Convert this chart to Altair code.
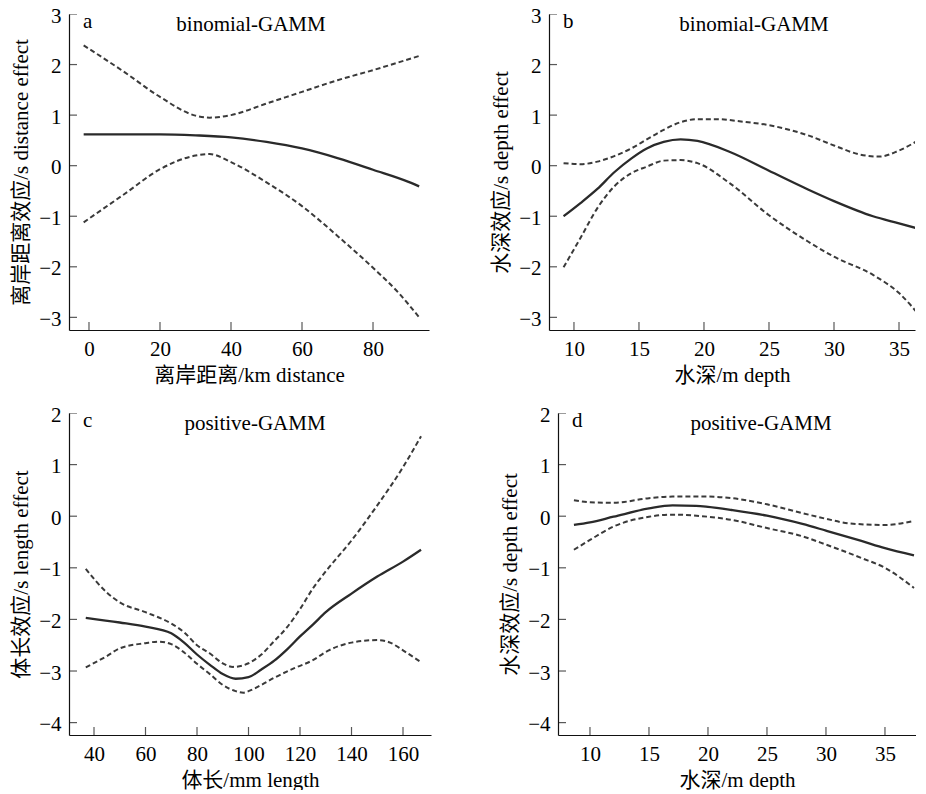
import altair as alt
import pandas as pd

FONT = "Liberation Serif, Noto Sans CJK SC, serif"

# ---------------- Panel a: distance (binomial-GAMM) ----------------
a_fit_x = [-1.5, 10, 20, 30, 40, 50, 60, 70, 80, 90, 93]
a_fit_y = [0.62, 0.62, 0.62, 0.60, 0.56, 0.47, 0.34, 0.15, -0.08, -0.32, -0.41]
a_up_x = [-1.5, 10, 20, 30, 34, 40, 50, 60, 70, 80, 93]
a_up_y = [2.38, 1.85, 1.36, 0.99, 0.95, 1.00, 1.23, 1.46, 1.69, 1.89, 2.17]
a_lo_x = [-1.5, 10, 20, 30, 34, 40, 50, 60, 70, 80, 87, 93]
a_lo_y = [-1.12, -0.56, -0.07, 0.20, 0.23, 0.07, -0.33, -0.80, -1.39, -2.02, -2.50, -3.00]

# ---------------- Panel b: depth (binomial-GAMM) ----------------
b_fit_x = [9.2, 10.5, 11.8, 13.1, 14.4, 15.6, 16.9, 18.2, 19.5, 22, 25, 28, 30, 33, 35, 36.85]
b_fit_y = [-1.00, -0.74, -0.46, -0.13, 0.14, 0.34, 0.47, 0.52, 0.49, 0.27, -0.10, -0.47, -0.70, -1.00, -1.14, -1.27]
b_up_x = [9.2, 10.5, 11.8, 13.1, 14.4, 15.6, 16.9, 18.2, 19.5, 21, 23, 25, 28, 30, 32, 33.5, 35, 36.85]
b_up_y = [0.05, 0.03, 0.08, 0.19, 0.34, 0.52, 0.71, 0.86, 0.92, 0.92, 0.87, 0.80, 0.60, 0.40, 0.22, 0.18, 0.30, 0.56]
b_lo_x = [9.2, 10.5, 11.8, 13.1, 14.4, 15.6, 16.9, 18.2, 19.5, 22, 25, 28, 30, 33, 35, 36.85]
b_lo_y = [-2.01, -1.43, -0.84, -0.41, -0.15, -0.02, 0.10, 0.11, 0.05, -0.35, -0.98, -1.50, -1.80, -2.16, -2.52, -3.05]

# ---------------- Panel c: length (positive-GAMM) ----------------
c_fit_x = [36.8, 50, 60, 70, 75, 80, 85, 90, 95, 100, 105, 110, 115, 120, 125, 130, 140, 150, 160, 167]
c_fit_y = [-1.97, -2.06, -2.14, -2.27, -2.45, -2.68, -2.88, -3.06, -3.15, -3.12, -2.97, -2.80, -2.58, -2.33, -2.10, -1.86, -1.50, -1.17, -0.88, -0.65]
c_up_x = [36.8, 45, 50, 60, 70, 75, 80, 85, 90, 94, 100, 105, 110, 115, 120, 125, 130, 140, 150, 160, 167]
c_up_y = [-1.02, -1.48, -1.67, -1.86, -2.08, -2.25, -2.50, -2.66, -2.85, -2.92, -2.85, -2.68, -2.42, -2.15, -1.80, -1.40, -1.07, -0.47, 0.21, 0.95, 1.55]
c_lo_x = [36.8, 45, 50, 60, 65, 70, 75, 80, 85, 90, 95, 98, 100, 105, 110, 118, 125, 130, 140, 150, 155, 160, 167]
c_lo_y = [-2.93, -2.71, -2.56, -2.46, -2.43, -2.48, -2.64, -2.86, -3.06, -3.27, -3.39, -3.42, -3.39, -3.27, -3.13, -2.94, -2.79, -2.63, -2.45, -2.40, -2.45, -2.60, -2.83]

# ---------------- Panel d: depth (positive-GAMM) ----------------
d_fit_x = [8.64, 10, 12, 15, 17, 19, 20, 22, 25, 28, 30, 33, 35, 37.46]
d_fit_y = [-0.17, -0.12, -0.01, 0.15, 0.21, 0.20, 0.18, 0.12, 0.01, -0.15, -0.28, -0.48, -0.62, -0.76]
d_up_x = [8.64, 10, 12, 15, 17, 20, 22, 25, 28, 30, 32, 35, 37.46]
d_up_y = [0.31, 0.27, 0.26, 0.35, 0.38, 0.38, 0.35, 0.23, 0.06, -0.05, -0.14, -0.17, -0.09]
d_lo_x = [8.64, 10, 12, 15, 17, 20, 22, 25, 28, 30, 33, 35, 37.46]
d_lo_y = [-0.65, -0.46, -0.20, -0.01, 0.03, -0.01, -0.07, -0.23, -0.39, -0.55, -0.81, -1.00, -1.39]

# axis texts / tick values
panel_letters = ["a", "b", "c", "d"]
model_titles = ["binomial-GAMM", "binomial-GAMM", "positive-GAMM", "positive-GAMM"]
x_titles = ["离岸距离/km distance", "水深/m depth", "体长/mm length", "水深/m depth"]
y_titles = ["离岸距离效应/s distance effect", "水深效应/s depth effect",
            "体长效应/s length effect", "水深效应/s depth effect"]
a_xticks = [0, 20, 40, 60, 80]
b_xticks = [10, 15, 20, 25, 30, 35]
c_xticks = [40, 60, 80, 100, 120, 140, 160]
d_xticks = [10, 15, 20, 25, 30, 35]
top_yticks = [-3, -2, -1, 0, 1, 2, 3]
bot_yticks = [-4, -3, -2, -1, 0, 1, 2]


def panel(fx, fy, ux, uy, lx, ly, xdom, ydom, xticks, yticks, w, h,
          xtitle, ytitle, letter, model, model_cx):
    fit = pd.DataFrame({"x": fx, "y": fy, "s": "fit"})
    band = pd.concat([
        pd.DataFrame({"x": ux, "y": uy, "s": "upper"}),
        pd.DataFrame({"x": lx, "y": ly, "s": "lower"}),
    ])
    xenc = alt.X("x:Q", scale=alt.Scale(domain=xdom, nice=False, zero=False),
                 axis=alt.Axis(title=xtitle, values=xticks, format="d",
                               labelPadding=8, titlePadding=5))
    yenc = alt.Y("y:Q", scale=alt.Scale(domain=ydom, nice=False, zero=False),
                 axis=alt.Axis(title=ytitle, values=yticks, format="d",
                               labelPadding=8, titlePadding=7, labelOffset=2))
    fit_line = alt.Chart(fit).mark_line(
        clip=True, interpolate="monotone", color="#2a2a2a", strokeWidth=2.3
    ).encode(x=xenc, y=yenc)
    band_line = alt.Chart(band).mark_line(
        clip=True, interpolate="monotone", color="#3a3a3a", strokeWidth=2.0,
        strokeDash=[5, 3]
    ).encode(x=xenc, y=yenc, detail="s:N")
    xt = pd.DataFrame({"x": xticks, "y": ydom[0]})
    yt = pd.DataFrame({"x": xdom[0], "y": yticks})
    xtick_layer = alt.Chart(xt).mark_tick(
        orient="vertical", size=16, thickness=1.2, color="#111", clip=True
    ).encode(x=xenc, y=yenc)
    ytick_layer = alt.Chart(yt).mark_tick(
        orient="horizontal", size=16, thickness=1.2, color="#111", clip=True
    ).encode(x=xenc, y=yenc)
    one = pd.DataFrame({"k": [0]})
    letter_txt = alt.Chart(one).mark_text(
        font=FONT, fontSize=21, align="left", baseline="alphabetic", color="#000"
    ).encode(x=alt.value(14), y=alt.value(14), text=alt.value(letter))
    model_txt = alt.Chart(one).mark_text(
        font=FONT, fontSize=21, align="center", baseline="alphabetic", color="#000"
    ).encode(x=alt.value(model_cx), y=alt.value(17), text=alt.value(model))
    return alt.layer(band_line, fit_line, xtick_layer, ytick_layer,
                     letter_txt, model_txt).properties(width=w, height=h)


pa = panel(a_fit_x, a_fit_y, a_up_x, a_up_y, a_lo_x, a_lo_y,
           [-5.63, 95.77], [-3.25, 3.0], a_xticks, top_yticks, 360, 316,
           x_titles[0], y_titles[0], panel_letters[0], model_titles[0], 182)
pb = panel(b_fit_x, b_fit_y, b_up_x, b_up_y, b_lo_x, b_lo_y,
           [8.08, 36.23], [-3.25, 3.0], b_xticks, top_yticks, 366, 316,
           x_titles[1], y_titles[1], panel_letters[1], model_titles[1], 205)
pc = panel(c_fit_x, c_fit_y, c_up_x, c_up_y, c_lo_x, c_lo_y,
           [30.29, 170.87], [-4.24, 2.0], c_xticks, bot_yticks, 362, 322,
           x_titles[2], y_titles[2], panel_letters[2], model_titles[2], 186)
pd_ = panel(d_fit_x, d_fit_y, d_up_x, d_up_y, d_lo_x, d_lo_y,
            [7.29, 37.63], [-4.24, 2.0], d_xticks, bot_yticks, 358, 322,
            x_titles[3], y_titles[3], panel_letters[3], model_titles[3], 203)

row1 = alt.hconcat(pa, pb, spacing=61)
row2 = alt.hconcat(pc, pd_, spacing=68)

chart = alt.vconcat(row1, row2, spacing=19).properties(
    padding={"left": 2, "top": -3, "right": 0, "bottom": 0}
).configure_view(stroke=None).configure_axis(
    labelFont=FONT, titleFont=FONT, labelFontSize=21, titleFontSize=21,
    labelColor="#000", titleColor="#000", titleFontWeight="normal",
    domainColor="#111", domainWidth=1.2, grid=False, ticks=False,
    labelFlush=False, labelOverlap=False
)

chart.save("out.html", embed_options={"renderer": "svg", "actions": False})
